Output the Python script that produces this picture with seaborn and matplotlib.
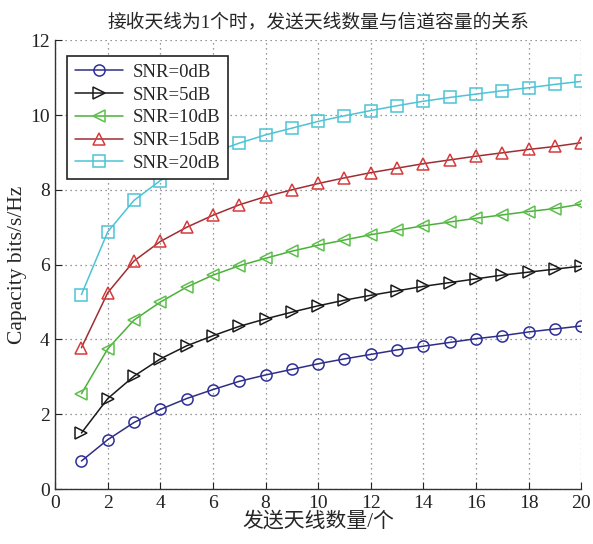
import pandas as pd
import seaborn as sns
import matplotlib.pyplot as plt

antennas = list(range(1, 21))
snr_labels = ['SNR=0dB', 'SNR=5dB', 'SNR=10dB', 'SNR=15dB', 'SNR=20dB']

cap_0db = [0.75, 1.32, 1.78, 2.13, 2.42, 2.66, 2.88, 3.05, 3.20, 3.35,
           3.48, 3.60, 3.72, 3.82, 3.92, 4.02, 4.10, 4.20, 4.28, 4.36]
cap_5db = [1.50, 2.42, 3.02, 3.48, 3.83, 4.10, 4.35, 4.55, 4.73, 4.90,
           5.05, 5.18, 5.30, 5.42, 5.52, 5.62, 5.72, 5.80, 5.88, 5.96]
cap_10db = [2.55, 3.75, 4.52, 5.00, 5.40, 5.72, 5.97, 6.17, 6.36, 6.52,
            6.66, 6.80, 6.92, 7.04, 7.14, 7.24, 7.33, 7.42, 7.50, 7.62]
cap_15db = [3.78, 5.25, 6.10, 6.62, 7.00, 7.32, 7.60, 7.82, 8.00, 8.17,
            8.32, 8.46, 8.58, 8.70, 8.80, 8.90, 8.99, 9.08, 9.16, 9.26]
cap_20db = [5.20, 6.88, 7.72, 8.25, 8.65, 9.00, 9.25, 9.47, 9.65, 9.83,
            9.98, 10.12, 10.25, 10.37, 10.47, 10.56, 10.65, 10.73, 10.82, 10.90]

series = [cap_0db, cap_5db, cap_10db, cap_15db, cap_20db]
line_colors = ['#2e2e86', '#1a1a1a', '#4caf3c', '#9e2e34', '#4cc4d4']
marker_colors = ['#2e2e9a', '#1a1a1a', '#5cc04a', '#d83a3a', '#4cc4d4']
markers = ['o', '>', '<', '^', 's']

sns.set_style('white')
plt.rcParams['font.family'] = ['Liberation Serif', 'Noto Sans CJK SC']

fig = plt.figure(figsize=(5.93, 5.44), dpi=100)
ax = fig.add_axes([0.093, 0.101, 0.887, 0.825])

for lab, vals, lc, mc, mk in zip(snr_labels, series, line_colors, marker_colors, markers):
    df = pd.DataFrame({'n': antennas, 'c': vals})
    sns.lineplot(data=df, x='n', y='c', ax=ax, color=lc, marker=mk,
                 markersize=8, markerfacecolor='none', markeredgecolor=mc,
                 markeredgewidth=1.1, linewidth=1.1, label=lab)

ax.set_xlim(0, 20)
ax.set_ylim(0, 12)
ax.set_xticks(range(0, 21, 2))
ax.set_yticks(range(0, 13, 2))
ax.grid(True, linestyle=(0, (1, 3)), color='#777777', linewidth=0.9)
for s in ['top', 'right']:
    ax.spines[s].set_visible(False)
for s in ['left', 'bottom']:
    ax.spines[s].set_color('#333333')
    ax.spines[s].set_linewidth(1.0)
ax.tick_params(direction='in', length=5, labelsize=14, colors='#222222',
               left=True, bottom=True, pad=4)

ax.set_title('接收天线为1个时，发送天线数量与信道容量的关系', fontsize=13.5, pad=9)
ax.set_xlabel('发送天线数量/个', fontsize=15, labelpad=0)
ax.set_ylabel('Capacity bits/s/Hz', fontsize=15.5, labelpad=2)

leg = ax.legend(loc='upper left', fontsize=13.5, frameon=True, fancybox=False,
                framealpha=1, edgecolor='#222222', handlelength=2.6,
                borderpad=0.4, labelspacing=0.3, handletextpad=0.5,
                bbox_to_anchor=(0.005, 0.985))
leg.get_frame().set_linewidth(1.2)

plt.savefig('out.png', dpi=100)
